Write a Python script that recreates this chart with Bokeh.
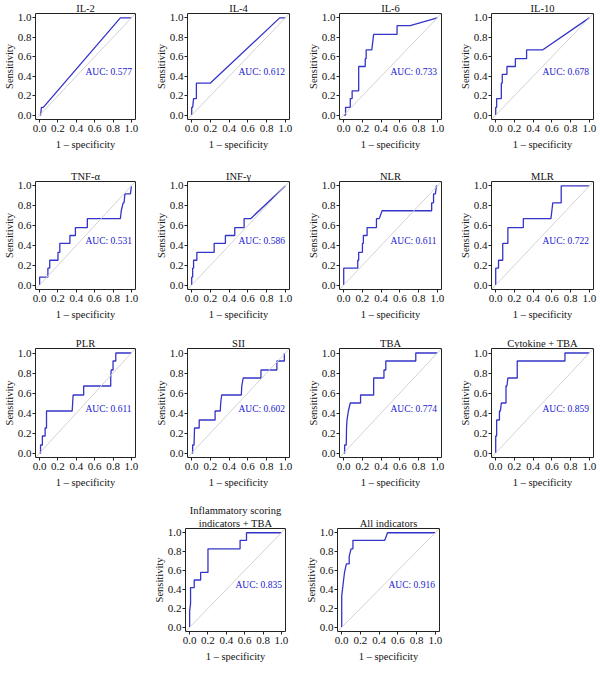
from bokeh.plotting import figure
from bokeh.layouts import column, row, Spacer
from bokeh.models import Range1d, FixedTicker, PrintfTickFormatter, Slope, Label, Title
from bokeh.embed import file_html
from bokeh.resources import INLINE

# ---------------- data ----------------
il2_fpr = [0.0, 0.01, 0.02, 0.04, 0.88, 1.0]
il2_tpr = [0.0, 0.0, 0.08, 0.08, 1.0, 1.0]

il4_fpr = [0.0, 0.0, 0.01, 0.02, 0.04, 0.05, 0.05, 0.20, 0.94, 1.0]
il4_tpr = [0.0, 0.08, 0.08, 0.17, 0.17, 0.17, 0.33, 0.33, 1.0, 1.0]

il6_fpr = [0.0, 0.02, 0.02, 0.07, 0.07, 0.09, 0.09, 0.16, 0.16, 0.23, 0.23, 0.24, 0.24, 0.30, 0.31, 0.32, 0.57, 0.57, 0.71, 1.0]
il6_tpr = [0.0, 0.0, 0.08, 0.08, 0.17, 0.17, 0.25, 0.25, 0.50, 0.50, 0.58, 0.58, 0.67, 0.67, 0.75, 0.83, 0.83, 0.92, 0.92, 1.0]

il10_fpr = [0.0, 0.0, 0.01, 0.01, 0.06, 0.06, 0.07, 0.07, 0.12, 0.12, 0.21, 0.21, 0.33, 0.33, 0.50, 1.0]
il10_tpr = [0.0, 0.08, 0.08, 0.17, 0.17, 0.33, 0.33, 0.42, 0.42, 0.50, 0.50, 0.58, 0.58, 0.67, 0.67, 1.0]

tnf_fpr = [0.0, 0.0, 0.09, 0.09, 0.11, 0.11, 0.20, 0.20, 0.22, 0.22, 0.33, 0.33, 0.39, 0.39, 0.52, 0.52, 0.88, 0.89, 0.91, 0.92, 0.93, 0.99, 1.0]
tnf_tpr = [0.0, 0.08, 0.08, 0.17, 0.17, 0.25, 0.25, 0.33, 0.33, 0.42, 0.42, 0.50, 0.50, 0.58, 0.58, 0.67, 0.67, 0.75, 0.83, 0.83, 0.92, 0.92, 1.0]

inf_fpr = [0.0, 0.0, 0.01, 0.01, 0.02, 0.02, 0.055, 0.055, 0.24, 0.24, 0.36, 0.36, 0.46, 0.46, 0.56, 0.56, 0.63, 1.0]
inf_tpr = [0.0, 0.08, 0.08, 0.17, 0.17, 0.25, 0.25, 0.33, 0.33, 0.42, 0.42, 0.50, 0.50, 0.58, 0.58, 0.67, 0.67, 1.0]

nlr_fpr = [0.0, 0.0, 0.15, 0.15, 0.16, 0.16, 0.20, 0.20, 0.21, 0.21, 0.25, 0.25, 0.35, 0.35, 0.38, 0.41, 0.94, 0.94, 0.96, 0.96, 0.98, 0.99, 1.0]
nlr_tpr = [0.0, 0.17, 0.17, 0.25, 0.25, 0.33, 0.33, 0.42, 0.42, 0.50, 0.50, 0.58, 0.58, 0.67, 0.67, 0.75, 0.75, 0.83, 0.83, 0.92, 0.92, 1.0, 1.0]

mlr_fpr = [0.0, 0.0, 0.03, 0.03, 0.075, 0.075, 0.13, 0.13, 0.295, 0.295, 0.59, 0.60, 0.61, 0.70, 0.70, 1.0]
mlr_tpr = [0.0, 0.17, 0.17, 0.25, 0.25, 0.42, 0.42, 0.58, 0.58, 0.67, 0.67, 0.75, 0.83, 0.83, 1.0, 1.0]

plr_fpr = [0.0, 0.01, 0.01, 0.03, 0.03, 0.06, 0.06, 0.075, 0.075, 0.355, 0.36, 0.365, 0.48, 0.48, 0.775, 0.775, 0.78, 0.80, 0.80, 0.83, 0.83, 1.0]
plr_tpr = [0.0, 0.0, 0.08, 0.08, 0.17, 0.17, 0.25, 0.25, 0.42, 0.42, 0.50, 0.58, 0.58, 0.67, 0.67, 0.75, 0.83, 0.83, 0.92, 0.92, 1.0, 1.0]

sii_fpr = [0.0, 0.01, 0.01, 0.025, 0.03, 0.075, 0.075, 0.08, 0.08, 0.25, 0.25, 0.305, 0.31, 0.32, 0.53, 0.535, 0.55, 0.74, 0.74, 0.91, 0.91, 0.99, 0.99]
sii_tpr = [0.0, 0.0, 0.08, 0.08, 0.25, 0.25, 0.25, 0.25, 0.33, 0.33, 0.42, 0.42, 0.50, 0.58, 0.58, 0.67, 0.75, 0.75, 0.83, 0.83, 0.92, 0.92, 1.0]

tba_fpr = [0.0, 0.01, 0.01, 0.027, 0.03, 0.035, 0.05, 0.07, 0.18, 0.18, 0.32, 0.32, 0.43, 0.43, 0.45, 0.45, 0.77, 0.77, 1.0]
tba_tpr = [0.0, 0.0, 0.08, 0.08, 0.25, 0.33, 0.42, 0.50, 0.50, 0.58, 0.58, 0.75, 0.75, 0.83, 0.83, 0.92, 0.92, 1.0, 1.0]

cyt_fpr = [0.0, 0.0, 0.01, 0.01, 0.04, 0.04, 0.05, 0.06, 0.11, 0.11, 0.12, 0.13, 0.23, 0.23, 0.74, 0.74, 1.0]
cyt_tpr = [0.0, 0.17, 0.17, 0.33, 0.33, 0.42, 0.42, 0.50, 0.50, 0.67, 0.67, 0.75, 0.75, 0.92, 0.92, 1.0, 1.0]

infl_fpr = [0.0, 0.0, 0.01, 0.01, 0.05, 0.05, 0.12, 0.12, 0.20, 0.20, 0.55, 0.55, 0.62, 0.62, 1.0]
infl_tpr = [0.0, 0.17, 0.25, 0.42, 0.42, 0.50, 0.50, 0.58, 0.58, 0.83, 0.83, 0.92, 0.92, 1.0, 1.0]

all_fpr = [0.0, 0.0, 0.02, 0.03, 0.05, 0.08, 0.08, 0.10, 0.12, 0.12, 0.46, 0.49, 1.0]
all_tpr = [0.0, 0.33, 0.50, 0.58, 0.67, 0.67, 0.75, 0.83, 0.83, 0.92, 0.92, 1.0, 1.0]

panels = [
    (["IL-2"], il2_fpr, il2_tpr, "AUC: 0.577"),
    (["IL-4"], il4_fpr, il4_tpr, "AUC: 0.612"),
    (["IL-6"], il6_fpr, il6_tpr, "AUC: 0.733"),
    (["IL-10"], il10_fpr, il10_tpr, "AUC: 0.678"),
    (["TNF-α"], tnf_fpr, tnf_tpr, "AUC: 0.531"),
    (["INF-γ"], inf_fpr, inf_tpr, "AUC: 0.586"),
    (["NLR"], nlr_fpr, nlr_tpr, "AUC: 0.611"),
    (["MLR"], mlr_fpr, mlr_tpr, "AUC: 0.722"),
    (["PLR"], plr_fpr, plr_tpr, "AUC: 0.611"),
    (["SII"], sii_fpr, sii_tpr, "AUC: 0.602"),
    (["TBA"], tba_fpr, tba_tpr, "AUC: 0.774"),
    (["Cytokine + TBA"], cyt_fpr, cyt_tpr, "AUC: 0.859"),
    (["Inflammatory scoring", "indicators + TBA"], infl_fpr, infl_tpr, "AUC: 0.835"),
    (["All indicators"], all_fpr, all_tpr, "AUC: 0.916"),
]

ticks = [0.0, 0.2, 0.4, 0.6, 0.8, 1.0]

# ---------------- styling / layout ----------------
FONT = "Liberation Serif"
CURVE = "#3434c8"
AUCCOL = "#2020d0"
COL_LEFT = [33, 37, 39, 41]
FRAME_W = 102
ROW_H = [168, 167, 167, 171]
ROW_TOP = [12, 12, 12, 22]
FRAME_H = [107, 109, 110, 107]


def make(title_lines, fpr, tpr, auc, c, r):
    left = COL_LEFT[c]
    right = 150 - left - FRAME_W
    top = ROW_TOP[r]
    bottom = ROW_H[r] - top - FRAME_H[r]
    p = figure(width=150, height=ROW_H[r], output_backend="svg", toolbar_location=None,
               x_range=Range1d(-0.045, 1.045), y_range=Range1d(-0.045, 1.045),
               min_border_left=left, min_border_right=right,
               min_border_top=top, min_border_bottom=bottom,
               background_fill_color="white", border_fill_color="white")
    p.xgrid.visible = False
    p.ygrid.visible = False
    p.outline_line_color = "#222222"
    p.outline_line_width = 1
    for t in reversed(title_lines):
        p.add_layout(Title(text=t, align="center", text_font=FONT, text_font_size="10.5px",
                           text_font_style="normal", text_color="#111111", standoff=0, offset=0),
                     "above")
    for ax in (p.xaxis[0], p.yaxis[0]):
        ax.ticker = FixedTicker(ticks=ticks)
        ax.formatter = PrintfTickFormatter(format="%.1f")
        ax.axis_line_color = None
        ax.major_tick_line_color = "#222222"
        ax.major_tick_in = 0
        ax.major_tick_out = 3
        ax.minor_tick_line_color = None
        ax.major_label_text_font = FONT
        ax.major_label_text_font_size = "11px"
        ax.major_label_text_color = "#111111"
        ax.axis_label_text_font = FONT
        ax.axis_label_text_font_size = "10.5px"
        ax.axis_label_text_font_style = "normal"
        ax.axis_label_text_color = "#111111"
        ax.major_label_standoff = 1
        ax.axis_label_standoff = 0
    p.xaxis.major_label_standoff = 2
    p.xaxis.axis_label_standoff = 4
    p.xaxis.axis_label = "1 – specificity"
    p.yaxis.axis_label = "Sensitivity"
    p.yaxis.major_label_orientation = "horizontal"
    p.add_layout(Slope(gradient=1, y_intercept=0, line_color="#d2d2d2", line_width=1))
    p.line(fpr, tpr, line_color=CURVE, line_width=1.3)
    p.add_layout(Label(x=0.5, y=0.445, text=auc, text_font=FONT, text_font_size="9.5px",
                       text_color=AUCCOL, text_align="left", text_baseline="middle"))
    return p


figs = [make(t, f, s, a, i % 4, i // 4) for i, (t, f, s, a) in enumerate(panels)]

layout = column(
    row(*figs[0:4]),
    row(*figs[4:8]),
    row(*figs[8:12]),
    row(Spacer(width=150, height=ROW_H[3]), figs[12], figs[13], Spacer(width=150, height=ROW_H[3])),
)

open("out.html", "w").write(file_html(layout, INLINE))
